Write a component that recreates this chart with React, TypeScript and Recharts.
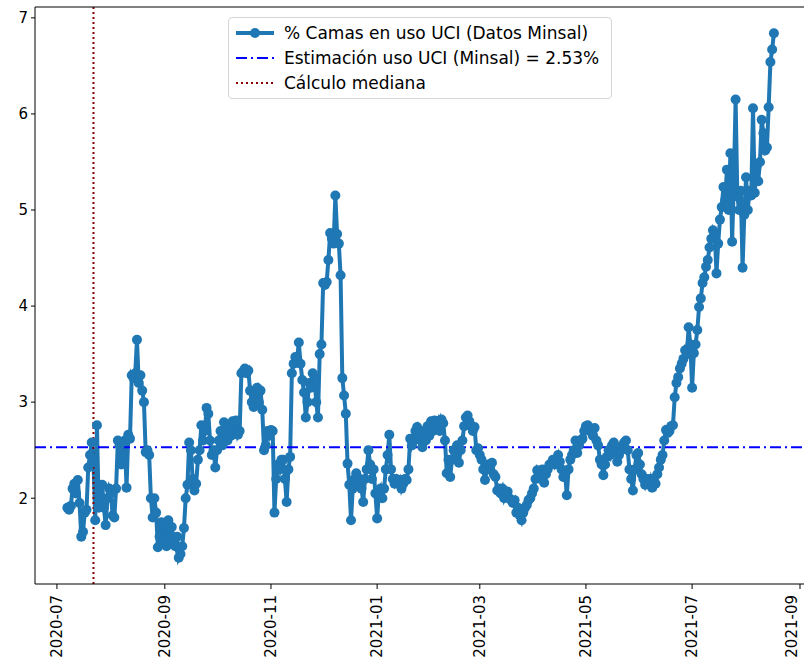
import React from 'react';
import { LineChart, Line, XAxis, YAxis, ReferenceLine } from 'recharts';

// % of ICU beds in use, one value per day starting 2020-07-07
const firstDate = '2020-07-07';
const icuBedsPct = [
  1.90, 1.88, 1.92, 2.10, 2.15, 2.05, 2.19, 1.95, 1.60, 1.65,
  1.85, 1.88, 2.32, 2.45, 2.58, 2.40, 1.77, 2.76, 1.90, 2.00,
  2.14, 1.90, 1.72, 2.00, 2.10, 2.05, 1.82, 1.80, 2.10, 2.60,
  2.55, 2.35, 2.45, 2.60, 2.11, 2.66, 2.62, 3.28, 3.25, 3.30,
  3.65, 3.20, 3.28, 3.12, 3.00, 2.48, 2.50, 2.45, 2.00, 1.80,
  2.00, 1.85, 1.49, 1.60, 1.75, 1.55, 1.70, 1.50, 1.77, 1.60,
  1.70, 1.55, 1.50, 1.60, 1.38, 1.42, 1.50, 1.69, 2.00, 2.14,
  2.58, 2.50, 2.20, 2.08, 2.15, 2.40, 2.50, 2.76, 2.60, 2.70,
  2.94, 2.88, 2.60, 2.45, 2.50, 2.32, 2.50, 2.60, 2.70, 2.55,
  2.79, 2.70, 2.60, 2.75, 2.65, 2.80, 2.70, 2.81, 2.66, 2.70,
  3.30, 3.32, 3.35, 3.30, 3.33, 3.12, 3.00, 2.95, 3.12, 3.15,
  3.00, 3.12, 2.92, 2.50, 2.55, 2.70, 2.65, 2.71, 2.70, 1.85,
  2.20, 2.35, 2.30, 2.40, 2.40, 2.20, 1.96, 2.30, 2.43, 3.30,
  3.40, 3.47, 3.45, 3.62, 3.40, 3.23, 3.10, 2.84, 3.00, 3.20,
  3.15, 3.30, 3.25, 3.00, 2.84, 3.50, 3.60, 4.24, 4.22, 4.25,
  4.48, 4.76, 4.70, 4.65, 5.15, 4.75, 4.65, 4.32, 3.25, 3.07,
  2.88, 2.36, 2.14, 1.77, 2.10, 2.20, 2.26, 2.15, 2.20, 2.10,
  1.96, 2.20, 2.30, 2.50, 2.35, 2.20, 2.30, 2.05, 1.79, 2.05,
  2.10, 2.00, 2.10, 2.30, 2.45, 2.66, 2.30, 2.20, 2.15, 2.20,
  2.15, 2.19, 2.10, 2.15, 2.20, 2.19, 2.30, 2.62, 2.55, 2.60,
  2.70, 2.74, 2.65, 2.60, 2.53, 2.70, 2.60, 2.75, 2.65, 2.80,
  2.70, 2.81, 2.75, 2.80, 2.70, 2.82, 2.78, 2.60, 2.26, 2.40,
  2.22, 2.40, 2.50, 2.45, 2.55, 2.37, 2.50, 2.60, 2.75, 2.84,
  2.86, 2.80, 2.75, 2.70, 2.74, 2.50, 2.52, 2.45, 2.40, 2.30,
  2.19, 2.30, 2.35, 2.30, 2.37, 2.25, 2.22, 2.08, 2.10, 2.05,
  2.10, 2.00, 2.05, 2.07, 2.00, 1.98, 1.95, 1.98, 1.85, 1.90,
  1.82, 1.77, 1.85, 1.90, 1.93, 1.98, 2.00, 2.05, 2.10, 2.20,
  2.29, 2.25, 2.20, 2.30, 2.16, 2.25, 2.30, 2.35, 2.36, 2.40,
  2.35, 2.40, 2.45, 2.38, 2.30, 2.22, 2.25, 2.03, 2.30, 2.40,
  2.45, 2.50, 2.60, 2.47, 2.55, 2.60, 2.62, 2.70, 2.75, 2.76,
  2.70, 2.72, 2.65, 2.73, 2.60, 2.55, 2.40, 2.35, 2.24, 2.35,
  2.43, 2.50, 2.45, 2.55, 2.58, 2.50, 2.38, 2.45, 2.50, 2.55,
  2.58, 2.60, 2.50, 2.30, 2.20, 2.08, 2.30, 2.45, 2.47, 2.35,
  2.25, 2.20, 2.14, 2.20, 2.15, 2.20, 2.11, 2.20, 2.15, 2.25,
  2.32, 2.40, 2.45, 2.60, 2.71, 2.68, 2.70, 2.75, 2.76, 3.05,
  3.20, 3.26, 3.35, 3.40, 3.45, 3.54, 3.50, 3.78, 3.60, 3.15,
  3.51, 3.60, 3.75, 3.99, 4.08, 4.24, 4.30, 4.41, 4.48, 4.61,
  4.70, 4.79, 4.75, 4.34, 4.65, 4.90, 5.03, 5.24, 5.10, 5.42,
  5.00, 5.59, 4.67, 5.30, 6.15, 5.14, 5.00, 5.20, 4.40, 4.95,
  5.34, 5.00, 5.20, 5.15, 6.06, 5.18, 5.45, 5.30, 5.50, 5.94,
  5.80, 5.62, 5.65, 6.07, 6.54, 6.67, 6.84,
];

const monthTicks = ['2020-07', '2020-09', '2020-11', '2021-01', '2021-03', '2021-05', '2021-07', '2021-09'];
const yTicks = [2, 3, 4, 5, 6, 7];
const minsalEstimate = 2.53;
const medianDate = '2020-07-22';

const DAY = 86400000;
const origin = Date.UTC(2020, 6, 1);
const dayOf = (iso: string) => {
  const [y, m, d] = iso.split('-').map(Number);
  return Math.round((Date.UTC(y, m - 1, d || 1) - origin) / DAY);
};

const start = dayOf(firstDate);
const rows = icuBedsPct.map((v, i) => ({ day: start + i, pct: v }));
const tickDays = monthTicks.map(dayOf);
const labelFor = (day: number) => monthTicks[tickDays.indexOf(day)] ?? '';

const FONT = 'DejaVu Sans';
const BLUE = '#1f77b4';

const DateTick = (props: any) => {
  const { x, y, payload } = props;
  return (
    <g transform={`translate(${x},${y})`}>
      <text transform="rotate(-90)" x={-2} y={0} dy="0.35em" textAnchor="end" fontSize={15} fontFamily={FONT} fill="#000">
        {labelFor(payload.value)}
      </text>
    </g>
  );
};

const LegendBox = () => (
  <div
    style={{
      position: 'absolute', left: 228, top: 17, width: 382, height: 80,
      border: '1px solid #d6d6d6', borderRadius: 4, background: 'rgba(255,255,255,0.85)',
      fontFamily: FONT, fontSize: 17, color: '#000',
    }}
  >
    {[
      { label: '% Camas en uso UCI (Datos Minsal)', kind: 'data' },
      { label: `Estimación uso UCI (Minsal) = ${minsalEstimate}%`, kind: 'est' },
      { label: 'Cálculo mediana', kind: 'med' },
    ].map((it, i) => (
      <div key={it.kind} style={{ position: 'absolute', left: 0, top: 3 + i * 25, height: 24, width: '100%' }}>
        <svg width={50} height={24} style={{ position: 'absolute', left: 0, top: 0 }}>
          {it.kind === 'data' && (
            <g>
              <line x1={7} x2={45} y1={12} y2={12} stroke={BLUE} strokeWidth={4} />
              <circle cx={26} cy={12} r={5} fill={BLUE} />
            </g>
          )}
          {it.kind === 'est' && (
            <line x1={7} x2={45} y1={12} y2={12} stroke="#0000ff" strokeWidth={2} strokeDasharray="11 4 2 4" />
          )}
          {it.kind === 'med' && (
            <line x1={7} x2={45} y1={12} y2={12} stroke="#8b0000" strokeWidth={2} strokeDasharray="2 3" />
          )}
        </svg>
        <span style={{ position: 'absolute', left: 55, top: 1, lineHeight: '22px', whiteSpace: 'nowrap' }}>{it.label}</span>
      </div>
    ))}
  </div>
);

export default function App() {
  return (
    <div style={{ position: 'absolute', left: 0, top: 0, width: 804, height: 672, background: '#fff' }}>
      <LineChart width={804} height={672} data={rows} margin={{ top: 7, right: 0, bottom: 0, left: 0 }}>
        <XAxis
          dataKey="day"
          type="number"
          domain={[-12.6, 429.3]}
          ticks={tickDays}
          allowDataOverflow
          height={88}
          tick={<DateTick />}
          tickSize={5}
          tickMargin={4}
          axisLine={{ stroke: '#000', strokeWidth: 1 }}
          tickLine={{ stroke: '#000' }}
        />
        <YAxis
          type="number"
          domain={[1.107, 7.113]}
          ticks={yTicks}
          allowDataOverflow
          width={35}
          tickSize={4}
          tickMargin={3}
          tick={{ fontSize: 15, fontFamily: FONT, fill: '#000' }}
          axisLine={{ stroke: '#000', strokeWidth: 1 }}
          tickLine={{ stroke: '#000' }}
        />
        <Line
          dataKey="pct"
          stroke={BLUE}
          strokeWidth={4}
          dot={{ r: 5, fill: BLUE, stroke: BLUE, strokeWidth: 0 }}
          activeDot={false}
          isAnimationActive={false}
        />
        <ReferenceLine y={minsalEstimate} stroke="#0000ff" strokeWidth={2} strokeDasharray="11 4 2 4" />
        <ReferenceLine x={dayOf(medianDate)} stroke="#8b0000" strokeWidth={2} strokeDasharray="2 3" />
        <ReferenceLine y={7.113} stroke="#000" strokeWidth={1} />
      </LineChart>
      <LegendBox />
    </div>
  );
}
